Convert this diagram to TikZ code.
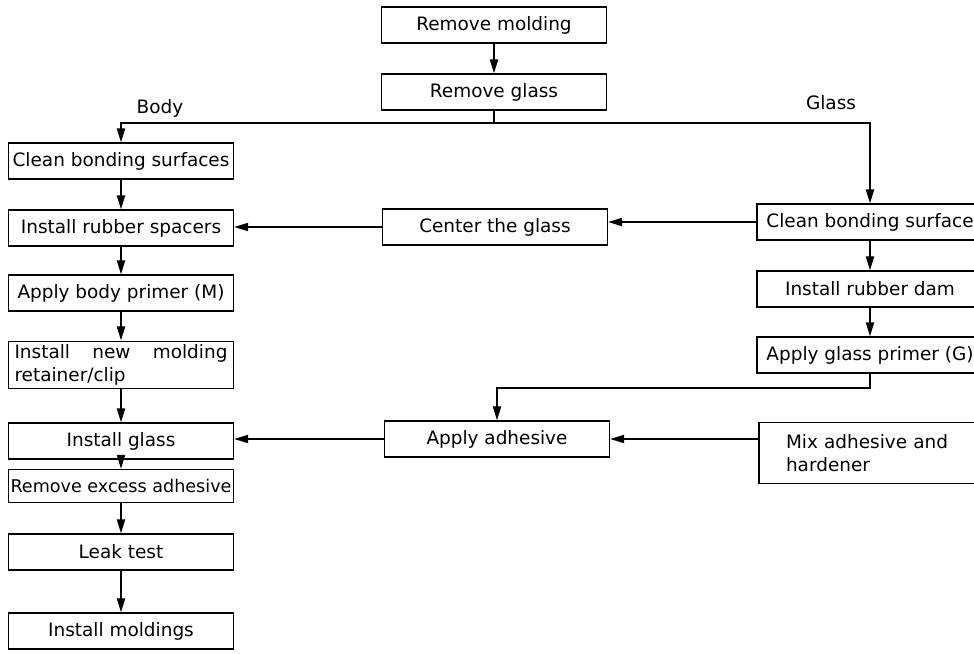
\documentclass[tikz,border=0pt]{standalone}
\usepackage{fontspec}
\setmainfont{DejaVu Sans}
\usetikzlibrary{arrows.meta, positioning}

\begin{document}
\begin{tikzpicture}[
  x=0.02cm, y=-0.02cm,
  stepbox/.style={draw, line width=0.7pt, minimum width=4.5cm, minimum height=0.72cm, inner sep=2pt, align=center, font=\fontsize{10.5}{13}\selectfont},
  sidelabel/.style={font=\fontsize{10.5}{13}\selectfont},
  arrow/.style={-{Triangle[length=8pt, width=4.6pt]}, line width=1.1pt},
  line/.style={line width=1.1pt}
]
  \useasboundingbox (0,0) rectangle (974,653);
  \clip (0,0) rectangle (974,653);

  % common start
  \node[stepbox] (remMold) at (494,25) {Remove molding};
  \node[stepbox] (remGlass) at (494,92) {Remove glass};
  \coordinate (split) at (494,123);

  \node[sidelabel] (body) at (160,108) {Body};
  \node[sidelabel] (glass) at (831,103) {Glass};

  % body side
  \node[stepbox] (cleanB) at (121,161) {Clean bonding surfaces};
  \node[stepbox] (spacers) at (121,228) {Install rubber spacers};
  \node[stepbox] (bPrimer) at (121,293) {Apply body primer (M)};
  \node[stepbox, minimum height=0.92cm, text width=4.26cm, inner xsep=0.12cm, align=justify] (retainer) at (121,365) {Install new molding \mbox{retainer/clip}};
  \node[stepbox] (instGlass) at (121,441) {Install glass};
  \node[stepbox, minimum height=0.66cm, inner xsep=1pt, font=\fontsize{10}{12}\selectfont] (excess) at (121,486) {Remove excess adhesive};
  \node[stepbox] (leak) at (121,552) {Leak test};
  \node[stepbox] (moldings) at (121,631) {Install moldings};

  % middle
  \node[stepbox] (center) at (495,227) {Center the glass};
  \node[stepbox] (adhesive) at (497,439) {Apply adhesive};

  % glass side
  \node[stepbox, minimum width=4.52cm] (cleanG) at (870,222) {Clean bonding surface};
  \node[stepbox, minimum width=4.52cm] (dam) at (870,289) {Install rubber dam};
  \node[stepbox, minimum width=4.52cm] (gPrimer) at (870,355) {Apply glass primer (G)};
  \node[stepbox, minimum width=4.52cm, minimum height=1.22cm, text width=3.44cm, inner xsep=0.54cm, align=left] (mix) at (872,453) {Mix adhesive and\\hardener};

  \draw[arrow] (remMold) -- (remGlass);
  \draw[line] (remGlass.south) -- (split);
  \draw[arrow] (split) -| (cleanB.north);
  \draw[arrow] (split) -| (cleanG.north);

  \draw[arrow] (cleanB) -- (spacers);
  \draw[arrow] (spacers) -- (bPrimer);
  \draw[arrow] (bPrimer) -- (retainer);
  \draw[arrow] (retainer) -- (instGlass);
  \draw[arrow] (instGlass) -- (excess);
  \draw[arrow] (excess) -- (leak);
  \draw[arrow] (leak) -- (moldings);

  \draw[arrow] (cleanG) -- (dam);
  \draw[arrow] (dam) -- (gPrimer);
  \draw[arrow] (gPrimer.south) -- ++(0,14) -| (adhesive.north);

  \draw[arrow] (cleanG.west) -- (cleanG.west -| center.east);
  \draw[arrow] (center.west) -- (center.west -| spacers.east);
  \draw[arrow] (adhesive.east -| mix.west) -- (adhesive.east);
  \draw[arrow] (adhesive.west) -- (adhesive.west -| instGlass.east);
\end{tikzpicture}
\end{document}
